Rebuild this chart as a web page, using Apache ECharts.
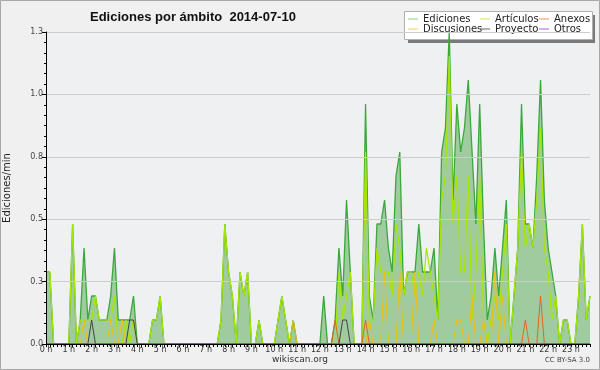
<!DOCTYPE html>
<html><head><meta charset="utf-8">
<script src="https://cdn.jsdelivr.net/npm/echarts@6/dist/echarts.min.js"></script>
<style>html,body{margin:0;padding:0;background:#f0f0f0}#c{width:600px;height:370px}</style>
</head><body><div id="c"></div>
<script>
// tick labels
const hourLabels = ['0 h','1 h','2 h','3 h','4 h','5 h','6 h','7 h','8 h','9 h','10 h','11 h',
  '12 h','13 h','14 h','15 h','16 h','17 h','18 h','19 h','20 h','21 h','22 h','23 h'];
const binMinutes = ['00','10','20','30','40','50'];
const yMax = 1.3;
const yStep = 0.26;

// values (edits/min) per 10-minute bin, one row per hour
const ediciones = [
  .3,.3,0,0,0,0,    0,.5,0,.1,.4,.1,   .2,.2,.1,.1,.1,.2,   .4,.1,.1,.1,.1,.2,
  0,0,0,0,.1,.1,    .2,0,0,0,0,0,      0,0,0,0,0,0,         0,0,0,0,.1,.5,
  .3,.2,0,.3,.2,.3, 0,0,.1,0,0,0,      0,.1,.2,.1,0,.1,     0,0,0,0,0,0,
  0,.2,0,0,.1,.4,   .2,.6,.3,0,0,0,    1.0,.2,.1,.5,.5,.6,  .4,.3,.7,.8,.2,.3,
  .3,.3,.5,.3,.3,.3,.4,.1,.8,.9,1.3,.6,1.0,.8,.9,1.1,.8,.5,1.0,.5,.1,.2,.4,.2,
  .4,.6,0,.2,.4,1.0,.5,.5,.4,.7,1.1,.6,.4,.3,.2,0,.1,.1,   0,0,.2,.5,.1,.2
];
const articulos = [
  .3,.3,0,0,0,0,    0,.5,0,.1,.1,.1,   .1,.2,.1,.1,.1,.1,   .2,0,0,.1,0,.1,
  0,0,0,0,.1,.1,    .2,0,0,0,0,0,      0,0,0,0,0,0,         0,0,0,0,.1,.5,
  .3,.2,0,.3,.2,.3, 0,0,.1,0,0,0,      0,.1,.2,.1,0,0,      0,0,0,0,0,0,
  0,0,0,0,0,.3,     .1,.2,.3,0,0,0,    .8,.1,.1,.4,.3,.3,   .3,.2,.5,.4,.2,.3,
  .3,.2,.3,.2,.4,.3,.2,.1,.6,.7,1.2,.5,.7,.3,.3,.7,.1,.3,   .7,.1,0,.1,.2,.1,
  .3,.5,0,.2,.4,.8, .4,.5,.4,.6,.9,.4, .3,.1,.2,0,.1,.1,    0,0,.2,.5,.1,.2
];
const anexos = [
  0,0,0,0,0,0, 0,0,0,0,0,0, 0,0,0,0,0,0, 0,0,0,0,0,0,
  0,0,0,0,0,0, 0,0,0,0,0,0, 0,0,0,0,0,0, 0,0,0,0,0,0,
  0,0,0,0,0,0, 0,0,0,0,0,0, 0,0,0,0,0,0, 0,0,0,0,0,0,
  0,0,0,0,.1,0, 0,0,0,0,0,0, .1,0,0,0,0,0, 0,0,0,0,0,0,
  0,0,0,0,0,0, 0,0,0,0,0,0, 0,0,0,0,0,0, 0,0,0,0,0,0,
  0,0,0,0,0,0, .1,0,0,0,.2,0, 0,0,0,0,0,0, 0,0,0,0,0,0
];
const discusiones = [
  0,0,0,0,0,0, 0,0,0,0,.1,0, 0,0,0,0,0,.1, 0,0,.1,0,0,0,
  0,0,0,0,0,0, 0,0,0,0,0,0, 0,0,0,0,0,0, 0,0,0,0,0,0,
  0,0,0,0,0,0, 0,0,0,0,0,0, 0,0,0,0,0,.1, 0,0,0,0,0,0,
  0,0,0,0,0,0, 0,0,0,0,0,0, 0,.1,0,0,0,.3, 0,0,0,.3,0,0,
  0,.3,0,0,0,0, .1,0,0,0,0,0, .1,.1,0,0,.2,0, 0,.1,0,0,.3,0,
  .2,0,0,0,0,0, 0,0,0,0,0,0, 0,0,0,0,0,0, 0,0,0,0,0,0
];
const proyecto = [
  0,0,0,0,0,0, 0,0,0,0,0,0, .1,0,0,0,0,0, 0,0,0,0,.1,.1,
  0,0,0,0,0,0, 0,0,0,0,0,0, 0,0,0,0,0,0, 0,0,0,0,0,0,
  0,0,0,0,0,0, 0,0,0,0,0,0, 0,0,0,0,0,0, 0,0,0,0,0,0,
  0,0,0,0,0,0, .1,.1,0,0,0,0, 0,0,0,0,0,0, 0,0,0,0,0,0,
  0,0,0,0,0,0, 0,0,0,0,0,0, 0,0,0,0,0,0, 0,0,0,0,0,0,
  0,0,0,0,0,0, 0,0,0,0,0,0, 0,0,0,0,0,0, 0,0,0,0,0,0
];
const otros = [
  0,0,0,0,0,0, 0,0,0,0,0,0, 0,0,0,0,0,0, 0,0,0,0,0,0,
  0,0,0,0,0,0, 0,0,0,0,0,0, 0,0,0,0,0,0, 0,0,0,0,0,0,
  0,0,0,0,0,0, 0,0,0,0,0,0, 0,0,0,0,0,0, 0,0,0,0,0,0,
  0,0,0,0,0,0, 0,0,0,0,0,0, 0,0,0,0,0,0, 0,0,0,0,0,0,
  0,0,0,0,0,0, 0,0,0,0,0,0, 0,0,0,0,0,0, 0,0,0,0,0,0,
  0,0,0,0,0,0, 0,0,0,0,0,0, 0,0,0,0,0,0, 0,0,0,0,0,0
];

const categories = [];
hourLabels.forEach((h, hi) => binMinutes.forEach(m => categories.push(hi + ':' + m)));

const FONT = 'DejaVu Sans';
function lineSeries(name, data, color, width, extra) {
  return Object.assign({
    name, type: 'line', data, symbol: 'none', showSymbol: false,
    color, itemStyle: {color}, lineStyle: {color, width}, animation: false
  }, extra || {});
}

const chart = echarts.init(document.getElementById('c'), null, {renderer: 'canvas'});
const legendBase = {
  orient: 'vertical', top: 14, itemGap: 0, itemWidth: 10, itemHeight: 1, icon: 'rect',
  padding: 0, selectedMode: false,
  textStyle: {fontSize: 10, lineHeight: 10, color: '#222', fontFamily: FONT, padding: [0,0,0,0]}
};
chart.setOption({
  backgroundColor: '#f0f0f0',
  animation: false,
  title: {
    text: 'Ediciones por ámbito  2014-07-10', left: 85, top: 6,
    textStyle: {fontSize: 13, fontWeight: 'bold', color: '#111', fontFamily: 'Liberation Sans'}
  },
  legend: [
    Object.assign({}, legendBase, {left: 408, data: [
      {name: 'Ediciones', itemStyle: {color: '#86d086'}},
      {name: 'Discusiones', itemStyle: {color: '#f5d050'}}]}),
    Object.assign({}, legendBase, {left: 480, data: [
      {name: 'Artículos', itemStyle: {color: '#c8ee5a'}},
      {name: 'Proyecto', itemStyle: {color: '#666666'}}]}),
    Object.assign({}, legendBase, {left: 539, data: [
      {name: 'Anexos', itemStyle: {color: '#f08a5a'}},
      {name: 'Otros', itemStyle: {color: '#a060f0'}}]})
  ],
  grid: {left: 46, right: 10, top: 32, bottom: 26, show: true, backgroundColor: '#eef0f2',
    borderWidth: 0, containLabel: false, outerBoundsMode: 'none'},
  xAxis: {
    type: 'category', data: categories, boundaryGap: false, z: 5,
    axisLine: {lineStyle: {color: '#000', width: 1}},
    axisTick: {show: true, interval: 0, length: 3, lineStyle: {color: '#000'}},
    axisLabel: {interval: 5, fontSize: 8, color: '#333', margin: 2, fontFamily: FONT,
      formatter: (v, i) => hourLabels[Math.round(i / binMinutes.length)]},
    splitLine: {show: false}
  },
  yAxis: {
    type: 'value', min: 0, max: yMax, interval: yStep, z: 5,
    name: 'Ediciones/min', nameLocation: 'middle', nameGap: 34, nameRotate: 90,
    nameTextStyle: {fontSize: 10, color: '#222', fontFamily: FONT},
    axisLine: {show: true, lineStyle: {color: '#000', width: 1}},
    axisTick: {show: true, length: 4, lineStyle: {color: '#000'}},
    minorTick: {show: true, splitNumber: 6, length: 2, lineStyle: {color: '#000'}},
    axisLabel: {fontSize: 8, color: '#444', margin: 3, fontFamily: FONT,
      formatter: v => v.toFixed(1)},
    splitLine: {show: true, lineStyle: {color: '#cccccc', width: 1}}
  },
  series: [
    lineSeries('Ediciones', ediciones, '#3aa83a', 1.3,
      {areaStyle: {color: '#9fcb9f', opacity: 1}}),
    lineSeries('Artículos', articulos, '#a8e600', 1.2),
    lineSeries('Discusiones', discusiones, '#f0c010', 1),
    lineSeries('Anexos', anexos, '#e8641e', 1),
    lineSeries('Proyecto', proyecto, '#444444', 1),
    lineSeries('Otros', otros, '#9040e0', 1)
  ],
  graphic: [
    {type: 'rect', z: -1, shape: {x: 0.5, y: 0.5, width: 599, height: 369},
      style: {fill: null, stroke: '#a8a8a8', lineWidth: 1}, silent: true},
    {type: 'rect', z: 0, shape: {x: 408, y: 15, width: 187, height: 28},
      style: {fill: '#7a7a7a'}, silent: true},
    {type: 'rect', z: 0, shape: {x: 404.5, y: 11.5, width: 188, height: 28},
      style: {fill: '#ffffff', stroke: '#b0b0b0', lineWidth: 1}, silent: true},
    {type: 'text', left: 'center', top: 355,
      style: {text: 'wikiscan.org', fontSize: 9, fill: '#333', fontFamily: FONT}},
    {type: 'text', right: 10, top: 357,
      style: {text: 'CC BY-SA 3.0', fontSize: 7, fill: '#444', fontFamily: FONT}}
  ]
});
</script></body></html>
